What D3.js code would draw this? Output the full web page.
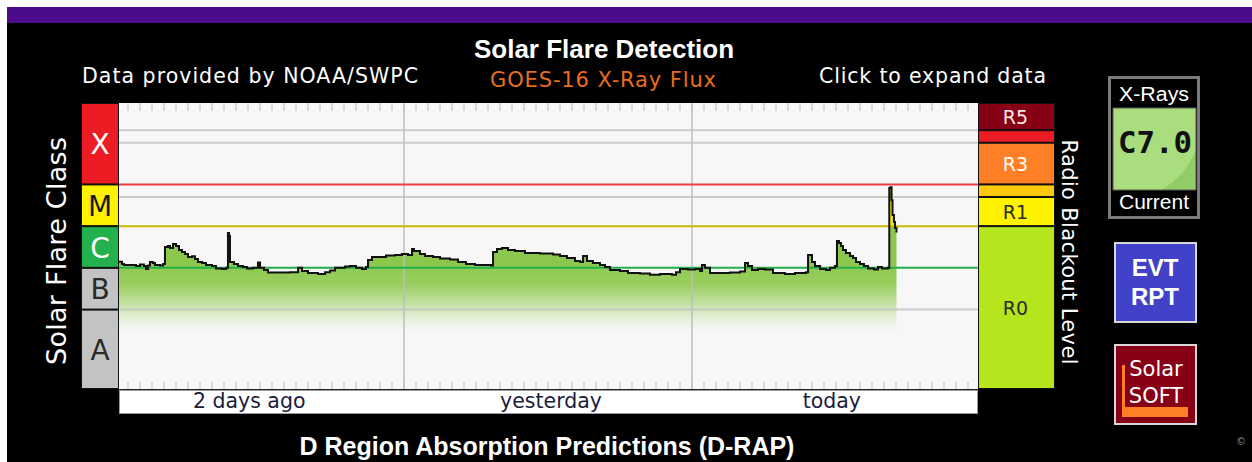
<!DOCTYPE html>
<html>
<head>
<meta charset="utf-8">
<script src="https://cdn.jsdelivr.net/npm/d3@7"></script>
<style>
  html, body { margin: 0; padding: 0; background: #ffffff; }
  svg { display: block; }
</style>
</head>
<body>
<svg id="chart" width="1252" height="462"></svg>
<script>
// GOES-16 1-8 Å X-ray flux (W/m²), time in hours relative to today's 00:00
const fluxHours = [
  -47.75, -47.5, -47.33, -46.83, -46.33, -46.0, -45.67, -45.5, -45.33, -45.17,
  -44.92, -44.75, -44.33, -44.08, -43.92, -43.67, -43.5, -43.25, -43.0, -42.75,
  -42.5, -42.25, -42.0, -41.67, -41.42, -41.17, -40.83, -40.5, -40.0, -39.67,
  -39.17, -38.83, -38.67, -38.58, -38.5, -38.17, -37.83, -37.42, -37.08, -36.58,
  -36.17, -36.0, -35.67, -35.33, -34.33, -33.5, -32.83, -32.5, -32.0, -31.17,
  -30.58, -30.17, -29.75, -28.92, -28.5, -28.0, -27.5, -27.17, -27.0, -26.67,
  -26.0, -25.5, -24.75, -24.17, -23.67, -23.33, -23.17,
  -22.67, -22.25, -21.58, -21.0, -20.17, -19.5, -18.83, -18.08, -17.08, -16.75,
  -16.58, -16.25, -15.83, -15.33, -14.75, -13.92, -12.67, -11.58, -11.0, -10.42,
  -9.75, -9.33, -9.08, -8.75, -8.25, -7.67, -7.25, -6.83, -6.0, -5.33,
  -4.33, -3.5, -2.67, -1.67, -1.33, -1.0, -0.33, 0.25, 0.67, 0.83,
  1.08, 1.5, 2.33, 3.17, 4.0, 4.42, 4.67, 5.0, 5.5, 6.08,
  6.75, 7.75, 8.58, 9.5, 9.67, 10.0, 10.25, 10.67, 11.17, 11.5,
  11.92, 12.08, 12.25, 12.42, 12.58, 12.83, 13.17, 13.42, 13.67, 14.0,
  14.33, 14.67, 15.17, 15.5, 15.83, 16.33, 16.44, 16.54, 16.63, 16.71,
  16.83, 16.92, 17.04
];
const fluxValues = [
  1.40e-6, 1.24e-6, 1.17e-6, 1.17e-6, 1.11e-6, 1.20e-6, 1.11e-6, 0.94e-6, 1.14e-6, 1.38e-6,
  1.31e-6, 1.17e-6, 1.14e-6, 1.24e-6, 3.16e-6, 3.34e-6, 3.00e-6, 3.73e-6, 3.34e-6, 2.68e-6,
  2.40e-6, 2.15e-6, 1.82e-6, 1.90e-6, 1.63e-6, 1.38e-6, 1.31e-6, 1.17e-6, 1.11e-6, 0.96e-6,
  0.94e-6, 1.00e-6, 6.85e-6, 5.80e-6, 1.38e-6, 1.24e-6, 1.11e-6, 1.05e-6, 0.96e-6, 1.00e-6,
  1.35e-6, 1.00e-6, 0.89e-6, 0.77e-6, 0.77e-6, 0.79e-6, 1.00e-6, 0.84e-6, 0.75e-6, 0.71e-6,
  0.79e-6, 0.86e-6, 1.00e-6, 1.08e-6, 1.11e-6, 1.00e-6, 0.94e-6, 1.05e-6, 1.54e-6, 1.82e-6,
  1.82e-6, 1.98e-6, 2.03e-6, 2.15e-6, 2.03e-6, 2.83e-6, 2.54e-6,
  2.15e-6, 1.92e-6, 1.82e-6, 1.68e-6, 1.58e-6, 1.38e-6, 1.24e-6, 1.17e-6, 1.17e-6, 1.14e-6,
  2.40e-6, 2.83e-6, 2.99e-6, 2.68e-6, 2.54e-6, 2.27e-6, 2.21e-6, 2.09e-6, 1.92e-6, 1.72e-6,
  1.46e-6, 1.38e-6, 1.92e-6, 1.46e-6, 1.31e-6, 1.17e-6, 1.05e-6, 0.89e-6, 0.84e-6, 0.75e-6,
  0.73e-6, 0.68e-6, 0.71e-6, 0.68e-6, 0.79e-6, 0.94e-6, 0.91e-6, 0.94e-6, 0.84e-6, 1.17e-6,
  1.00e-6, 0.75e-6, 0.75e-6, 0.77e-6, 0.82e-6, 1.31e-6, 1.11e-6, 0.89e-6, 0.94e-6, 0.91e-6,
  0.75e-6, 0.71e-6, 0.75e-6, 0.79e-6, 2.03e-6, 1.38e-6, 1.11e-6, 0.94e-6, 0.89e-6, 1.00e-6,
  1.11e-6, 4.40e-6, 3.93e-6, 3.34e-6, 2.68e-6, 2.27e-6, 1.92e-6, 1.72e-6, 1.38e-6, 1.24e-6,
  1.11e-6, 0.96e-6, 0.91e-6, 1.05e-6, 0.96e-6, 1.00e-6, 8.2e-5, 8.6e-5, 4.2e-5, 1.85e-5,
  1.26e-5, 9.0e-6, 7.0e-6
];

// Flare classes (lower bound of each decade)
const classNames  = ["A", "B", "C", "M", "X"];
const classFloors = [1e-8, 1e-7, 1e-6, 1e-5, 1e-4];
const classFill   = ["#c3c3c3", "#c3c3c3", "#22b14c", "#fff200", "#ed1c24"];
const classInk    = ["#2a2a2a", "#2a2a2a", "#ffffff", "#1a1a1a", "#ffffff"];

// NOAA radio blackout scale thresholds
const radioNames  = ["R0", "R1", "R2", "R3", "R4", "R5"];
const radioFloors = [0, 1e-5, 5e-5, 1e-4, 1e-3, 2e-3];
const radioFill   = ["#b5e61d", "#fff200", "#ffc90e", "#ff7f27", "#ed1c24", "#880015"];
const radioInk    = ["#2a2a2a", "#2a2a2a", "#2a2a2a", "#ffffff", "#ffffff", "#ffe6e6"];

// Time axis
const dayBoundaries = [-24, 0];
const dayLabels     = ["2 days ago", "yesterday", "today"];
const dayLabelHours = [-36.9, -11.75, 11.65];
const hourTicks     = d3.range(-47, 24);

// Horizontal reference lines
const grayLevels  = [1e-7, 5e-5, 1e-3, 2e-3];
const classLines  = [1e-6, 1e-5, 1e-4];
const classLineColors = ["#22b04c", "#cdb800", "#ee3b47"];

const svg = d3.select("#chart");
const plot = { left: 119, right: 978, top: 103, bottom: 389 };

const x = d3.scaleLinear().domain([-48, 24]).range([116, 980]);
const y = d3.scaleLog().domain([1e-9, 1e-2]).range([393, 101]);

// page background
svg.append("rect").attr("width", 1252).attr("height", 462).attr("fill", "#ffffff");
svg.append("rect").attr("x", 7).attr("y", 7).attr("width", 1245).attr("height", 455).attr("fill", "#000000");
svg.append("rect").attr("x", 7).attr("y", 7).attr("width", 1245).attr("height", 16).attr("fill", "#4c0b8b");

const defs = svg.append("defs");
defs.append("clipPath").attr("id", "plotClip")
  .append("rect")
  .attr("x", plot.left).attr("y", plot.top)
  .attr("width", plot.right - plot.left).attr("height", plot.bottom - plot.top);

// green fill fading out into the B-class band
const grad = defs.append("linearGradient").attr("id", "fade")
  .attr("gradientUnits", "userSpaceOnUse")
  .attr("x1", 0).attr("y1", 262).attr("x2", 0).attr("y2", 336);
[
  [0, "#8bc74c", 1], [0.3, "#96cd5b", 0.97], [0.55, "#b3da88", 0.8],
  [0.78, "#d6ebc2", 0.55], [1, "#f7f7f7", 0]
].forEach(([o, c, a]) => grad.append("stop").attr("offset", o).attr("stop-color", c).attr("stop-opacity", a));

// titles
svg.append("text").attr("x", 604).attr("y", 58)
  .attr("text-anchor", "middle").attr("font-family", "Liberation Sans, Arial, sans-serif")
  .attr("font-weight", "bold").attr("font-size", 26).attr("fill", "#ffffff")
  .text("Solar Flare Detection");
svg.append("text").attr("x", 603).attr("y", 87)
  .attr("text-anchor", "middle").attr("font-family", "DejaVu Sans, Verdana, sans-serif")
  .attr("font-size", 21).attr("fill", "#e66e1e")
  .attr("textLength", 226).attr("lengthAdjust", "spacing")
  .text("GOES-16 X-Ray Flux");
svg.append("text").attr("x", 82).attr("y", 83)
  .attr("font-family", "DejaVu Sans, Verdana, sans-serif")
  .attr("font-size", 20.5).attr("fill", "#ffffff")
  .attr("textLength", 336).attr("lengthAdjust", "spacing")
  .text("Data provided by NOAA/SWPC");
svg.append("text").attr("x", 819).attr("y", 83)
  .attr("font-family", "DejaVu Sans, Verdana, sans-serif")
  .attr("font-size", 20.5).attr("fill", "#ffffff")
  .attr("textLength", 227).attr("lengthAdjust", "spacing")
  .text("Click to expand data");

// plot background
svg.append("rect")
  .attr("x", plot.left).attr("y", plot.top)
  .attr("width", plot.right - plot.left).attr("height", plot.bottom - plot.top)
  .attr("fill", "#f7f7f7");

const pg = svg.append("g").attr("clip-path", "url(#plotClip)");

// flux fill under the curve
const n = fluxHours.length;
const area = d3.area()
  .x((d, i) => x(fluxHours[i]))
  .y0(() => y(5e-9))
  .y1(d => y(d))
  .curve(d3.curveStepAfter);
pg.append("path").datum(fluxValues)
  .attr("d", area)
  .attr("fill", "url(#fade)");

// M-class portion shaded yellow
const segs = d3.range(n - 1).map(i => ({ h0: fluxHours[i], h1: fluxHours[i + 1], v: fluxValues[i] }));
pg.append("g").selectAll("rect").data(segs.filter(d => d.v > 1e-5)).join("rect")
  .attr("x", d => x(d.h0))
  .attr("width", d => x(d.h1) - x(d.h0) + 0.6)
  .attr("y", d => y(d.v))
  .attr("height", d => y(1e-5) - y(d.v))
  .attr("fill", "#f3e41a");

// gray grid
pg.append("g").selectAll("line").data(grayLevels).join("line")
  .attr("x1", plot.left).attr("x2", plot.right)
  .attr("y1", d => y(d)).attr("y2", d => y(d))
  .attr("stroke", "#bdbdbd").attr("stroke-opacity", 0.75).attr("stroke-width", 2);
pg.append("g").selectAll("line").data(dayBoundaries).join("line")
  .attr("x1", d => x(d)).attr("x2", d => x(d))
  .attr("y1", plot.top).attr("y2", plot.bottom)
  .attr("stroke", "#bdbdbd").attr("stroke-opacity", 0.75).attr("stroke-width", 2);

// class threshold lines
pg.append("g").selectAll("line").data(classLines).join("line")
  .attr("x1", plot.left).attr("x2", plot.right)
  .attr("y1", d => y(d)).attr("y2", d => y(d))
  .attr("stroke", (d, i) => classLineColors[i]).attr("stroke-width", 2);

// flux curve
const line = d3.line()
  .x((d, i) => x(fluxHours[i]))
  .y(d => y(d))
  .curve(d3.curveStepAfter);
pg.append("path").datum(fluxValues)
  .attr("d", line)
  .attr("fill", "none").attr("stroke", "#111111").attr("stroke-width", 2);

// hourly minor ticks along top and bottom
pg.append("g").selectAll("line").data(hourTicks).join("line")
  .attr("x1", d => x(d)).attr("x2", d => x(d))
  .attr("y1", plot.top).attr("y2", plot.top + 8)
  .attr("stroke", "#bcbcbc").attr("stroke-width", 1);
pg.append("g").selectAll("line").data(hourTicks).join("line")
  .attr("x1", d => x(d)).attr("x2", d => x(d))
  .attr("y1", plot.bottom - 7).attr("y2", plot.bottom)
  .attr("stroke", "#bcbcbc").attr("stroke-width", 1);

// bottom border of plot
svg.append("line").attr("x1", plot.left).attr("x2", plot.right)
  .attr("y1", plot.bottom + 0.5).attr("y2", plot.bottom + 0.5)
  .attr("stroke", "#222").attr("stroke-width", 1);

// flare class boxes
const boxX0 = 81, boxX1 = 119;
const classBands = classNames.map((name, i) => ({
  name,
  top: i === classNames.length - 1 ? plot.top : y(classFloors[i] * 10),
  bottom: i === 0 ? plot.bottom : y(classFloors[i]),
  fill: classFill[i], ink: classInk[i]
}));
const cb = svg.append("g");
cb.selectAll("rect").data(classBands).join("rect")
  .attr("x", boxX0 + 0.5).attr("width", boxX1 - boxX0 - 1)
  .attr("y", d => d.top + 0.5).attr("height", d => d.bottom - d.top - 1)
  .attr("fill", d => d.fill).attr("stroke", "#111").attr("stroke-width", 1);
cb.selectAll("text").data(classBands).join("text")
  .attr("x", (boxX0 + boxX1) / 2)
  .attr("y", d => (d.top + d.bottom) / 2 + 10.5)
  .attr("text-anchor", "middle")
  .attr("font-family", "DejaVu Sans, Verdana, sans-serif")
  .attr("font-size", 28).attr("fill", d => d.ink)
  .text(d => d.name);

// radio blackout bar
const rX0 = 978, rX1 = 1055;
const radioBands = radioNames.map((name, i) => ({
  name,
  bottom: i === 0 ? plot.bottom : y(radioFloors[i]),
  top: i === radioNames.length - 1 ? plot.top : y(radioFloors[i + 1]),
  fill: radioFill[i], ink: radioInk[i]
}));
const rb = svg.append("g");
rb.selectAll("rect").data(radioBands).join("rect")
  .attr("x", rX0 + 0.5).attr("width", rX1 - rX0 - 1)
  .attr("y", d => d.top + 0.5).attr("height", d => d.bottom - d.top - 1)
  .attr("fill", d => d.fill).attr("stroke", "#111").attr("stroke-width", 1);
rb.selectAll("text").data(radioBands.filter(d => d.bottom - d.top > 20)).join("text")
  .attr("x", (rX0 + rX1) / 2 - 1)
  .attr("y", d => (d.top + d.bottom) / 2 + 7)
  .attr("text-anchor", "middle")
  .attr("font-family", "DejaVu Sans, Verdana, sans-serif")
  .attr("font-size", 19).attr("fill", d => d.ink)
  .text(d => d.name);

// axis titles
svg.append("text")
  .attr("transform", "translate(66,251) rotate(-90)")
  .attr("text-anchor", "middle")
  .attr("font-family", "DejaVu Sans, Verdana, sans-serif")
  .attr("font-size", 27).attr("fill", "#ffffff")
  .attr("textLength", 228).attr("lengthAdjust", "spacing")
  .text("Solar Flare Class");
svg.append("text")
  .attr("transform", "translate(1062,252) rotate(90)")
  .attr("text-anchor", "middle")
  .attr("font-family", "DejaVu Sans, Verdana, sans-serif")
  .attr("font-size", 21).attr("fill", "#ffffff")
  .attr("textLength", 225).attr("lengthAdjust", "spacing")
  .text("Radio Blackout Level");

// time label strip
svg.append("rect")
  .attr("x", plot.left + 0.5).attr("y", 390.5)
  .attr("width", plot.right - plot.left - 1).attr("height", 23)
  .attr("fill", "#ffffff").attr("stroke", "#9a9a9a").attr("stroke-width", 1);
svg.append("g").selectAll("text").data(dayLabels).join("text")
  .attr("x", (d, i) => x(dayLabelHours[i]))
  .attr("y", 408)
  .attr("text-anchor", "middle")
  .attr("font-family", "DejaVu Sans, Verdana, sans-serif")
  .attr("font-size", 20.5).attr("fill", "#1c1c3c")
  .text(d => d);

// current X-ray class readout
const last = fluxValues[n - 1];
const ci = d3.bisectRight(classFloors, last) - 1;
const currentLabel = classNames[ci] + (last / classFloors[ci]).toFixed(1);

const wg = svg.append("g");
wg.append("rect").attr("x", 1109.5).attr("y", 77.5).attr("width", 89).attr("height", 140)
  .attr("fill", "#000").attr("stroke", "#7a7a7a").attr("stroke-width", 3);
defs.append("clipPath").attr("id", "panelClip")
  .append("rect").attr("x", 1113).attr("y", 108).attr("width", 83).attr("height", 82);
wg.append("rect").attr("x", 1113).attr("y", 108).attr("width", 83).attr("height", 82).attr("fill", "#92cc66");
wg.append("circle").attr("cx", 1130).attr("cy", 128).attr("r", 69)
  .attr("fill", "#a9dd7e").attr("clip-path", "url(#panelClip)");
wg.append("rect").attr("x", 1113).attr("y", 108).attr("width", 83).attr("height", 82)
  .attr("fill", "none").attr("stroke", "#5a5a5a").attr("stroke-width", 1);
wg.append("text").attr("x", 1154).attr("y", 101).attr("text-anchor", "middle")
  .attr("font-family", "Liberation Sans, Arial, sans-serif").attr("font-size", 20)
  .attr("fill", "#ffffff").attr("textLength", 70).attr("lengthAdjust", "spacingAndGlyphs")
  .text("X-Rays");
wg.append("text").attr("x", 1155).attr("y", 153).attr("text-anchor", "middle")
  .attr("font-family", "DejaVu Sans Mono, monospace").attr("font-size", 30)
  .attr("font-weight", "bold").attr("fill", "#111111")
  .attr("textLength", 74).attr("lengthAdjust", "spacingAndGlyphs")
  .text(currentLabel);
wg.append("text").attr("x", 1154).attr("y", 209).attr("text-anchor", "middle")
  .attr("font-family", "Liberation Sans, Arial, sans-serif").attr("font-size", 20)
  .attr("fill", "#ffffff").attr("textLength", 70).attr("lengthAdjust", "spacingAndGlyphs")
  .text("Current");

// event report button
const eb = svg.append("g");
eb.append("rect").attr("x", 1115).attr("y", 243).attr("width", 81).attr("height", 79)
  .attr("fill", "#4242c8").attr("stroke", "#d8d8d8").attr("stroke-width", 2);
eb.selectAll("text").data(["EVT", "RPT"]).join("text")
  .attr("x", 1155).attr("y", (d, i) => 276 + i * 29)
  .attr("text-anchor", "middle")
  .attr("font-family", "Liberation Sans, Arial, sans-serif")
  .attr("font-weight", "bold").attr("font-size", 24).attr("fill", "#ffffff")
  .text(d => d);

// SolarSoft button
const sb = svg.append("g");
sb.append("rect").attr("x", 1115).attr("y", 345).attr("width", 81).attr("height", 79)
  .attr("fill", "#880015").attr("stroke", "#d8d8d8").attr("stroke-width", 2);
sb.append("rect").attr("x", 1122).attr("y", 365).attr("width", 3).attr("height", 52).attr("fill", "#ff7f27");
sb.append("rect").attr("x", 1122).attr("y", 407).attr("width", 66).attr("height", 10).attr("fill", "#ff7f27");
sb.selectAll("text").data(["Solar", "SOFT"]).join("text")
  .attr("x", 1156).attr("y", (d, i) => 376 + i * 27)
  .attr("text-anchor", "middle")
  .attr("font-family", "DejaVu Sans, Verdana, sans-serif")
  .attr("font-size", 21).attr("fill", "#ffffff")
  .text(d => d);

// heading of the next panel
svg.append("text").attr("x", 547).attr("y", 455)
  .attr("text-anchor", "middle")
  .attr("font-family", "Liberation Sans, Arial, sans-serif")
  .attr("font-weight", "bold").attr("font-size", 25).attr("fill", "#ffffff")
  .text("D Region Absorption Predictions (D-RAP)");

svg.append("text").attr("x", 1236).attr("y", 445)
  .attr("font-family", "DejaVu Sans, sans-serif").attr("font-size", 10)
  .attr("fill", "#8a8a8a").text("©");
</script>
</body>
</html>
